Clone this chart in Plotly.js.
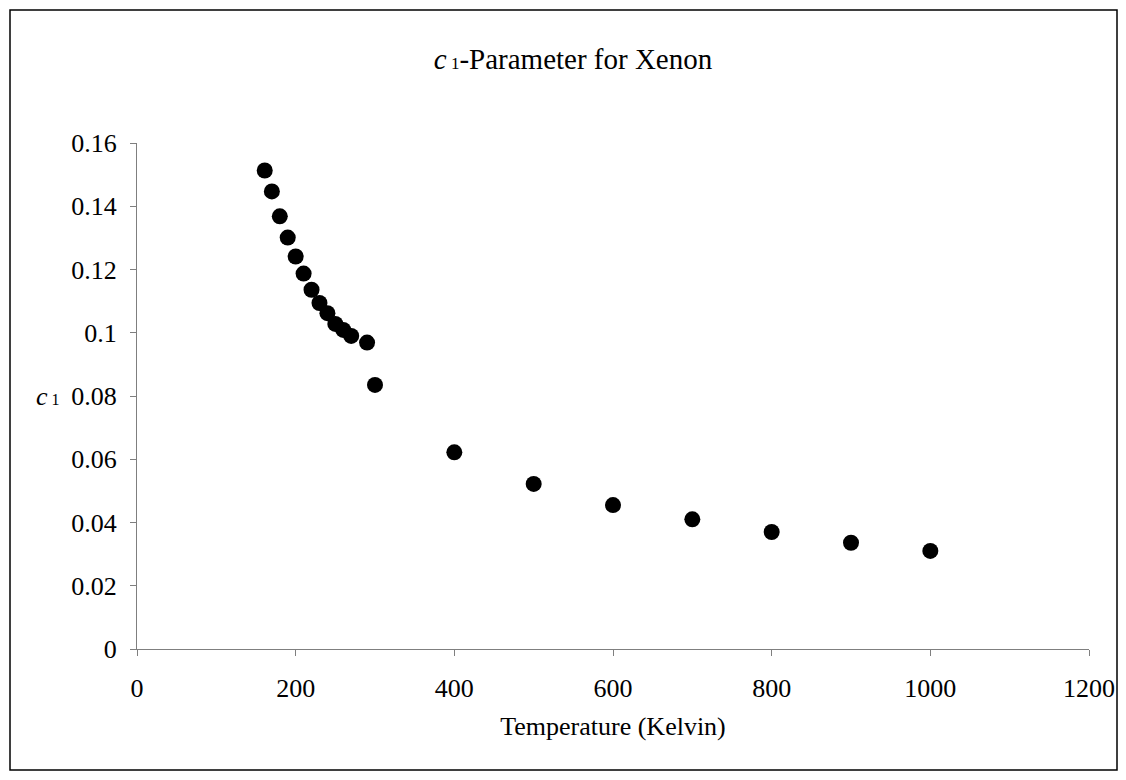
<!DOCTYPE html>
<html>
<head>
<meta charset="utf-8">
<script src="https://cdn.plot.ly/plotly-3.0.1.min.js"></script>
<style>html,body{margin:0;padding:0;background:#fff;}#chart{width:1126px;height:780px;}</style>
</head>
<body>
<div id="chart"></div>
<script>
// Data
const temperatureK = [161, 170, 180, 190, 200, 210, 220, 230, 240, 250, 260, 270, 290, 300,
                      400, 500, 600, 700, 800, 900, 1000];
const c1Values = [0.1513, 0.1447, 0.1368, 0.1301, 0.1241, 0.1187, 0.1136, 0.1094, 0.1062, 0.1028,
                  0.1009, 0.0990, 0.0969, 0.0835,
                  0.0622, 0.0522, 0.0455, 0.0410, 0.0370, 0.0336, 0.0310];
const xTickVals = [0, 200, 400, 600, 800, 1000, 1200];
const yTickVals = [0, 0.02, 0.04, 0.06, 0.08, 0.1, 0.12, 0.14, 0.16];
const yTickText = ['0', '0.02', '0.04', '0.06', '0.08', '0.1', '0.12', '0.14', '0.16'];

const FONT = '"Liberation Serif", "Times New Roman", serif';
const axisColor = '#7f7f7f';

const trace = {
  x: temperatureK,
  y: c1Values,
  type: 'scatter',
  mode: 'markers',
  marker: {color: '#000000', size: 16, line: {width: 0}},
  hoverinfo: 'x+y'
};

const L = 137, R = 1089, T = 143, B = 649;
const pw = R - L, ph = B - T;

const layout = {
  width: 1126,
  height: 780,
  margin: {l: L, r: 1126 - R, t: T, b: 780 - B, pad: 0},
  paper_bgcolor: '#ffffff',
  plot_bgcolor: '#ffffff',
  showlegend: false,
  font: {family: FONT, size: 26, color: '#000000'},
  title: {
    text: '<i>c</i><span style="font-size:17px"> 1</span>-Parameter for Xenon',
    font: {family: FONT, size: 29, color: '#000000'},
    x: 573 / 1126, xanchor: 'center', xref: 'container',
    y: 1 - 59 / 780, yanchor: 'middle', yref: 'container'
  },
  xaxis: {
    range: [0, 1200],
    tickvals: xTickVals,
    ticktext: xTickVals.map(String),
    showgrid: false,
    zeroline: false,
    showline: true,
    linecolor: axisColor,
    linewidth: 1,
    ticks: 'outside',
    ticklen: 6,
    tickcolor: axisColor,
    tickfont: {family: FONT, size: 26, color: '#000000'},
    ticklabelstandoff: 10,
    title: {text: 'Temperature (Kelvin)', font: {family: FONT, size: 26, color: '#000000'}, standoff: 14},
    fixedrange: true
  },
  yaxis: {
    range: [0, 0.16],
    tickvals: yTickVals,
    ticktext: yTickText,
    showgrid: false,
    zeroline: false,
    showline: true,
    linecolor: axisColor,
    linewidth: 1,
    ticks: 'outside',
    ticklen: 6,
    tickcolor: axisColor,
    tickfont: {family: FONT, size: 26, color: '#000000'},
    ticklabelstandoff: 8,
    fixedrange: true
  },
  annotations: [{
    text: '<i>c</i><span style="font-size:16px"> 1</span>',
    xref: 'paper', yref: 'paper',
    x: (48 - L) / pw, y: 0.5,
    xanchor: 'center', yanchor: 'middle',
    showarrow: false,
    font: {family: FONT, size: 26, color: '#000000'}
  }],
  shapes: [{
    type: 'rect', xref: 'paper', yref: 'paper',
    x0: (10 - L) / pw, x1: (1117 - L) / pw,
    y0: (B - 770) / ph, y1: (B - 10) / ph,
    line: {color: '#000000', width: 1.5},
    fillcolor: 'rgba(0,0,0,0)'
  }]
};

Plotly.newPlot('chart', [trace], layout, {displayModeBar: false, responsive: false, staticPlot: true});
</script>
</body>
</html>
